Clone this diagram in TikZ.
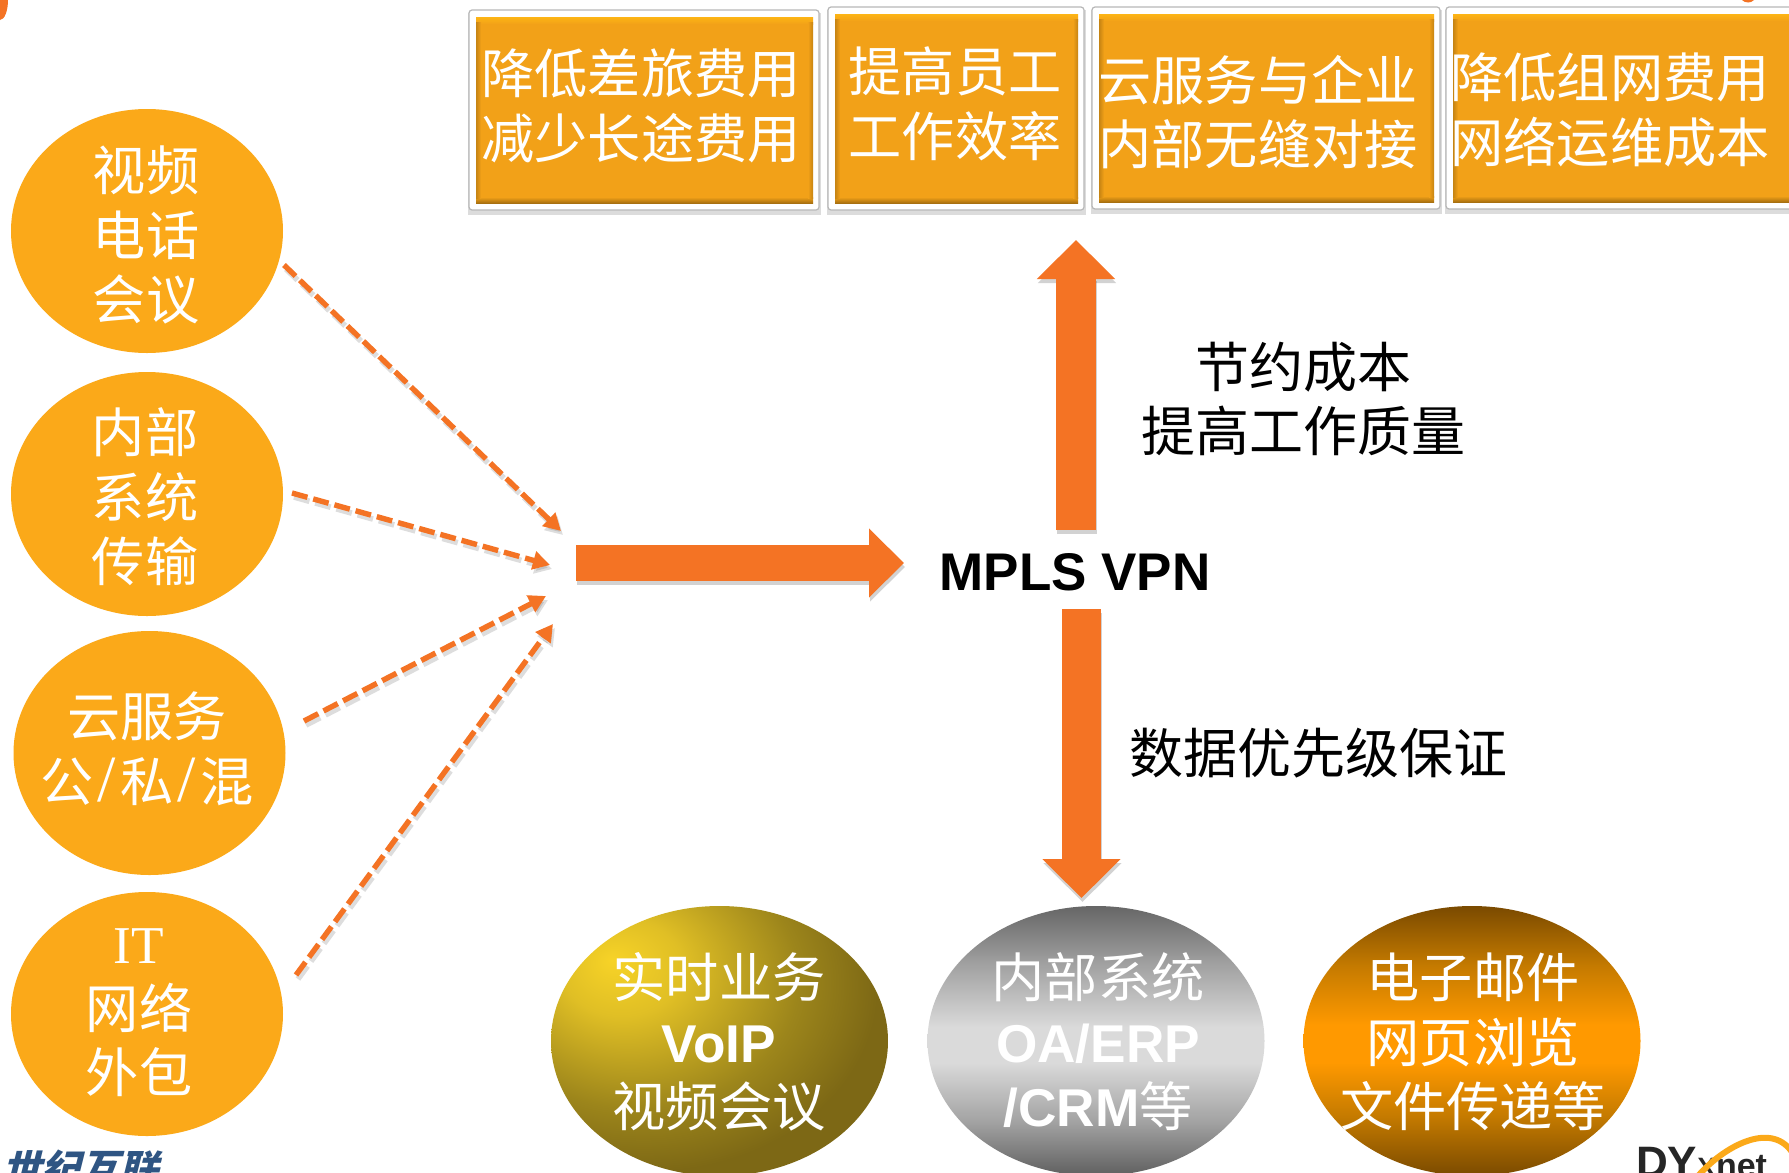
\documentclass[tikz,border=0pt]{standalone}
\usepackage{fontspec}
\setmainfont{Noto Sans CJK SC}
\newfontfamily\latinb{Liberation Sans}
\newfontfamily\latins{Liberation Serif}
\newfontfamily\logocjk[FakeSlant=0.25]{Noto Sans CJK SC}
\usetikzlibrary{shapes.geometric,arrows.meta,shadings,calc}
\definecolor{arrowor}{HTML}{F47324}
\definecolor{circor}{HTML}{FBA919}
\definecolor{boxor}{HTML}{F2A118}
\definecolor{boxtop}{HTML}{FDB515}
\definecolor{boxbot}{HTML}{A87010}
\definecolor{logoblue}{HTML}{2F5583}
\definecolor{goldA}{HTML}{F7D327}
\definecolor{goldB}{HTML}{E0BF25}
\definecolor{goldC}{HTML}{9C851B}
\definecolor{goldD}{HTML}{7D6815}
\definecolor{silA}{HTML}{666666}
\definecolor{silB}{HTML}{A2A2A2}
\definecolor{silC}{HTML}{DADADA}
\definecolor{silD}{HTML}{5F5F5F}
\definecolor{ambA}{HTML}{7A4A00}
\definecolor{ambB}{HTML}{C47A00}
\definecolor{ambC}{HTML}{FF9900}
\tikzset{
  x=1pt,y=-1pt,
  circnode/.style={ellipse,fill=circor,minimum width=272pt,minimum height=244pt,inner sep=0pt},
  bigtxt/.style={align=center,inner sep=0pt,font=\fontsize{53.2}{64.5}\selectfont},
  wtxt/.style={bigtxt,text=white},
  ktxt/.style={align=center,inner sep=0pt,text=black,font=\fontsize{54}{64.5}\selectfont},
  dasharrow/.style={draw=arrowor,line width=5.4pt,dash pattern=on 16pt off 6pt,
    -{Triangle[length=17pt,width=18pt,fill=arrowor]}},
  dashshadow/.style={draw=black!60,opacity=.22,line width=5.6pt,dash pattern=on 16pt off 6pt,
    -{Triangle[length=17pt,width=18pt]}},
  bigarrow/.style={draw=arrowor},
  bigshadow/.style={draw=black!70,opacity=.25},
  boxouter/.style={draw=black!28,line width=1.2pt,fill=white,rounded corners=3pt},
  boxinner/.style={fill=boxor},
  bubble/.style={ellipse,minimum width=337pt,minimum height=270pt,inner sep=0pt}
}
\pgfdeclareverticalshading{silvershade}{100bp}{
  color(0bp)=(silD); color(25bp)=(silD); color(35bp)=(silB); color(46bp)=(silC); color(52.5bp)=(silC); color(64bp)=(silB); color(75bp)=(silA); color(100bp)=(silA)}
\pgfdeclareverticalshading{ambershade}{100bp}{
  color(0bp)=(ambA); color(25bp)=(ambA); color(36bp)=(ambB); color(46bp)=(ambC); color(53bp)=(ambC); color(64bp)=(ambB); color(75bp)=(ambA); color(100bp)=(ambA)}
\pgfdeclareradialshading{goldshade}{\pgfpoint{-16bp}{15bp}}{
  color(0bp)=(goldA); color(9bp)=(goldB); color(24bp)=(goldC); color(34bp)=(goldD); color(100bp)=(goldD)}
\newcommand{\zbox}[4]{%
  \fill[black!45,opacity=.3] (#1-1,#2+3) rectangle (#3+2,#4+5);
  \path[boxouter] (#1,#2) rectangle (#3,#4);
  \fill[boxinner] (#1+7,#2+7) rectangle (#3-6,#4-7);
  \shade[top color=boxtop,bottom color=boxor] (#1+7,#2+7) rectangle (#3-6,#2+14);
  \shade[top color=boxor,bottom color=boxbot] (#1+7,#4-13) rectangle (#3-6,#4-7);
  \shade[left color=boxbot!60!boxor,right color=boxor] (#1+7,#2+12) rectangle (#1+12,#4-12);
  \shade[left color=boxor,right color=boxbot!60!boxor] (#3-11,#2+12) rectangle (#3-6,#4-12);
}
\newcommand{\wslash}{\hbox to .5em{\hss{\latins\fontsize{66}{64.5}\selectfont /}\hss}}
\begin{document}
\begin{tikzpicture}
\useasboundingbox (0,0) rectangle (1789,1173);
\clip (0,0) rectangle (1789,1173);
\fill[white] (0,0) rectangle (1789,1173);
% corner blobs
\fill[arrowor] (0,0) ellipse [x radius=8,y radius=20];
\fill[arrowor] (1748,-6) circle (8.5);
% top boxes
\zbox{469}{10}{819}{210}
\zbox{828}{7}{1084}{210}
\zbox{1092}{7}{1440}{209}
\zbox{1446}{7}{1800}{209}
\node[wtxt] (b1) at (641,106) {降低差旅费用\\减少长途费用};
\node[wtxt] (b2) at (955,104) {提高员工\\工作效率};
\node[wtxt] (b3) at (1258,112) {云服务与企业\\内部无缝对接};
\node[wtxt] (b4) at (1610,110) {降低组网费用\\网络运维成本};
% left circles
\node[circnode] (c1) at (147,231) {};
\node[circnode] (c2) at (147,494) {};
\node[circnode] (c3) at (149.5,753) {};
\node[circnode] (c4) at (147,1014) {};
\node[wtxt] (c1t) at (146,235) {视频\\电话\\会议};
\node[wtxt] (c2t) at (145,497) {内部\\系统\\传输};
\node[wtxt] (c3t) at (147,749) {云服务\\公\wslash 私\wslash 混};
\node[wtxt] (c4t) at (139,1013) {{\latins IT}\\网络\\外包};
% coordinates of connectors
\coordinate (s1) at (284,265); \coordinate (e1) at (561,531);
\coordinate (s2) at (292,493); \coordinate (e2) at (550,565);
\coordinate (s3) at (304,721); \coordinate (e3) at (546,596);
\coordinate (s4) at (296,975); \coordinate (e4) at (553,624);
\foreach \n in {1,2,3,4}{
  \draw[dashshadow] ($(s\n)+(2,4)$) -- ($(e\n)+(2,4)$);
  \draw[dasharrow] (s\n) -- (e\n);
}
% centre
\node[font=\latinb\bfseries\fontsize{53}{60}\selectfont,inner sep=0pt] (mpls) at (1075,572) {MPLS VPN};
\coordinate (hs) at (576,563); \coordinate (he) at (904,563);
\coordinate (us) at (1076,530); \coordinate (ue) at (1076,240);
\coordinate (ds) at (1081.5,609); \coordinate (de) at (1081.5,898);
\tikzset{hhead/.style={arrows={-{Triangle[length=35pt,width=67pt]}}},
         vhead/.style={arrows={-{Triangle[length=39pt,width=76pt]}}}}
\draw[bigshadow,line width=36pt,hhead] ($(hs)+(1,4)$) -- ($(he)+(1,4)$);
\draw[bigshadow,line width=40pt,vhead] ($(us)+(1,4)$) -- ($(ue)+(1,4)$);
\draw[bigshadow,line width=39pt,vhead] ($(ds)+(1,4)$) -- ($(de)+(1,4)$);
\draw[bigarrow,line width=36pt,hhead] (hs) -- (he);
\draw[bigarrow,line width=40pt,vhead] (us) -- (ue);
\draw[bigarrow,line width=39pt,vhead] (ds) -- (de);
\node[ktxt] (l1) at (1303,399) {节约成本\\提高工作质量};
\node[ktxt] (l2) at (1318,753) {数据优先级保证};
% bottom ellipses
\node[bubble,shading=goldshade] (g1) at (719.5,1041) {};
\node[bubble,shading=silvershade] (g2) at (1096,1041) {};
\node[bubble,shading=ambershade] (g3) at (1472,1041) {};
\node[wtxt] (g1t) at (719,1042) {实时业务\\{\latinb\bfseries VoIP}\\视频会议};
\node[wtxt] (g2t) at (1098,1042) {内部系统\\{\latinb\bfseries OA/ERP}\\{\latinb\bfseries /CRM}等};
\node[wtxt] (g3t) at (1473,1042) {电子邮件\\网页浏览\\文件传递等};
% logos
\node[anchor=north west,inner sep=0pt,text=logoblue,font=\logocjk\bfseries\fontsize{39}{44}\selectfont] (lg1) at (2,1150) {世纪互联};
\node[anchor=north west,inner sep=0pt,text=black!85,font=\latinb\bfseries\fontsize{44}{50}\selectfont] (lg2) at (1636,1147) {DY{\fontsize{28}{30}\selectfont X}{\fontsize{34}{40}\selectfont net}};
\draw[circor,line width=6pt,line cap=round] (1698,1176) .. controls (1722,1148) and (1770,1120) .. (1792,1152);
\end{tikzpicture}
\end{document}
